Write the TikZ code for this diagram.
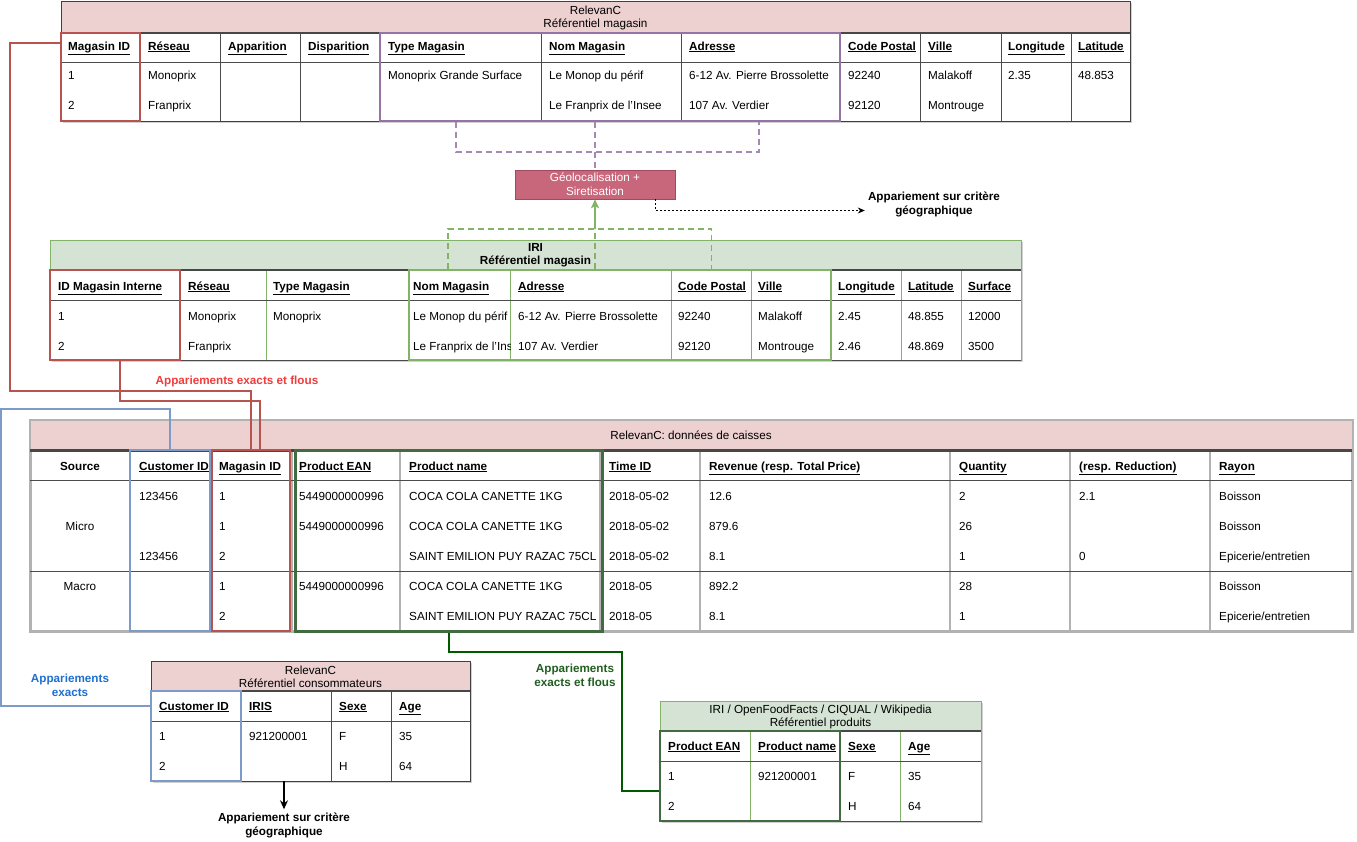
\documentclass[tikz,border=0pt]{standalone}
\usepackage{fontspec}
\setmainfont{Liberation Sans}
\usetikzlibrary{fit,calc,positioning,arrows.meta,shadows}

\definecolor{headpink}{HTML}{EDD0D0}
\definecolor{headgreen}{HTML}{D5E3D4}
\definecolor{linkred}{HTML}{B85450}
\definecolor{linkpurple}{HTML}{9673A6}
\definecolor{linkblue}{HTML}{7D9BC8}
\definecolor{lightgreen}{HTML}{82B366}
\definecolor{boxgreen}{HTML}{426B41}
\definecolor{linkgreen}{HTML}{005A00}
\definecolor{textred}{HTML}{F03C3C}
\definecolor{textblue}{HTML}{1F6FCF}
\definecolor{textgreen}{HTML}{215F21}
\definecolor{geofill}{HTML}{C8667B}
\definecolor{geodraw}{HTML}{A14A5E}

\tikzset{cell/.style={anchor=base west, inner sep=0pt, font=\fontsize{11.7}{14}\selectfont}}
\tikzset{colhead/.style={cell, font=\fontsize{11.7}{14}\selectfont\bfseries}}
\tikzset{title/.style={align=center, inner sep=0pt, font=\fontsize{11.7}{13.5}\selectfont}}
\tikzset{note/.style={align=center, inner sep=3pt, font=\fontsize{11.7}{14}\selectfont\bfseries}}
\tikzset{tabframe/.style={draw=black!75, fill=white, inner sep=0pt, line width=0.8pt,
  drop shadow={shadow xshift=2pt, shadow yshift=-2pt, fill=black, opacity=0.18}}}
\tikzset{pinkband/.style={draw=black!75, fill=headpink, inner sep=0pt, line width=0.8pt}}
\tikzset{greenband/.style={draw=lightgreen, fill=headgreen, inner sep=0pt, line width=0.8pt}}
\tikzset{headbar/.style={draw=black!72, line width=2pt}}
\tikzset{rowline/.style={draw=black!70, line width=0.6pt}}
\tikzset{sepdark/.style={draw=black!70, line width=0.6pt}}
\tikzset{sepgreen/.style={draw=lightgreen, line width=0.8pt}}
\tikzset{sepgray/.style={draw=black!30, line width=2.5pt}}
\tikzset{hlbox/.style={draw=#1, line width=2pt, inner sep=0pt}}
\tikzset{geobox/.style={draw=geodraw, fill=geofill, text=white, align=center, minimum width=160pt,
  minimum height=29pt, inner sep=0pt, font=\fontsize{11.7}{14}\selectfont}}
\tikzset{redlink/.style={draw=linkred, line width=1.5pt}}
\tikzset{bluelink/.style={draw=linkblue, line width=1.5pt}}
\tikzset{greenlink/.style={draw=linkgreen, line width=2pt}}
\tikzset{purpdash/.style={draw=linkpurple!85, line width=1.5pt, dash pattern=on 6pt off 4pt}}
\tikzset{greendash/.style={draw=lightgreen, line width=1.5pt, dash pattern=on 6pt off 4pt}}
\tikzset{greenarrow/.style={draw=lightgreen, line width=1.5pt, -{Stealth[length=9pt, width=8pt, inset=2pt]}}}
\tikzset{dotarrow/.style={draw=black, line width=0.8pt, dash pattern=on 2pt off 2pt, -{Stealth[length=7pt, width=6pt]}}}
\tikzset{blackarrow/.style={draw=black, line width=1.5pt, -{Stealth[length=9pt, width=8pt]}}}

\begin{document}
\begin{tikzpicture}[x=1pt, y=-1pt]
\useasboundingbox[fill=white] (0,0) rectangle (1357,841);

% RelevanC - referentiel magasin
\node[tabframe, fit={(61,1) (1130,121)}] (tabA) {};
\node[pinkband, fit={(61,1) (1130,33)}] (tabAhead) {};
\node[title] (tabAtitle) at ([yshift=-1pt]tabAhead.center) {RelevanC\\Référentiel magasin};
\foreach \x in {140,220,300,380,541,681,840,920,1001,1071}
  \draw[sepdark] (\x,33) -- (\x,121);
\draw[headbar] (61,33) -- (1130,33);
\draw[rowline] (61,62) -- (1130,62);
\foreach \x/\t [count=\i] in {68/Magasin ID,148/Réseau,228/Apparition,308/Disparition,388/Type Magasin,549/Nom Magasin,689/Adresse,848/Code Postal,928/Ville,1008/Longitude,1078/Latitude}
  \node[colhead] (tA-h\i) at (\x,50) {\underline{\t}};
\foreach \x/\t [count=\i] in {68/1,148/Monoprix,388/Monoprix Grande Surface,549/Le Monop du périf,689/6-12 Av. Pierre Brossolette,848/92240,928/Malakoff,1008/2.35,1078/48.853}
  \node[cell] (tA-a\i) at (\x,79) {\t};
\foreach \x/\t [count=\i] in {68/2,148/Franprix,549/Le Franprix de l'Insee,689/107 Av. Verdier,848/92120,928/Montrouge}
  \node[cell] (tA-b\i) at (\x,109) {\t};
\node[hlbox=linkred, fit={(61,33) (140,121)}] (magidA) {};
\node[hlbox=linkpurple, fit={(380,33) (840,121)}] (purpA) {};

% geolocalisation
\node[geobox] (geoloc) at (595,184.5) {Géolocalisation +\\Siretisation};
\node[note] (geotxtA) at (934,204.5) {Appariement sur critère\\géographique};

% IRI - referentiel magasin
\node[tabframe, draw=lightgreen, fit={(50,240) (1021,360)}] (tabB) {};
\node[greenband, fit={(50,240) (1021,270)}] (tabBhead) {};
\node[title, font=\fontsize{11.7}{13.5}\selectfont\bfseries] (tabBtitle) at (tabBhead.center) {IRI\\Référentiel magasin};
\foreach \x in {180,266,409,510,671,751,831,901,961}
  \draw[sepgreen] (\x,270) -- (\x,360);
\draw[headbar] (50,270) -- (1021,270);
\draw[rowline] (50,300) -- (1021,300);
\draw[rowline] (50,360) -- (1021,360);
\foreach \x/\t [count=\i] in {58/ID Magasin Interne,188/Réseau,273/Type Magasin,413/Nom Magasin,518/Adresse,678/Code Postal,758/Ville,838/Longitude,908/Latitude,968/Surface}
  \node[colhead] (tB-h\i) at (\x,290) {\underline{\t}};
\foreach \x/\t [count=\i] in {58/1,188/Monoprix,273/Monoprix,518/6-12 Av. Pierre Brossolette,678/92240,758/Malakoff,838/2.45,908/48.855,968/12000}
  \node[cell] (tB-a\i) at (\x,320) {\t};
\foreach \x/\t [count=\i] in {58/2,188/Franprix,518/107 Av. Verdier,678/92120,758/Montrouge,838/2.46,908/48.869,968/3500}
  \node[cell] (tB-b\i) at (\x,350) {\t};
\begin{scope}
  \clip (409,300) rectangle (510,360);
  \node[cell] (tB-a0) at (413,320) {Le Monop du périf};
  \node[cell] (tB-b0) at (413,350) {Le Franprix de l'Insee};
\end{scope}
\node[hlbox=linkred, fit={(50,270) (180,360)}] (magidB) {};
\node[hlbox=lightgreen, line width=2.5pt, fit={(409,270) (831,360)}] (greenB) {};

% RelevanC - donnees de caisses
\node[tabframe, draw=black!30, line width=3pt, fit={(30,420) (1352,631)}] (tabC) {};
\node[pinkband, draw=black!30, line width=1pt, fit={(30,420) (1352,450)}] (tabChead) {};
\node[title] (tabCtitle) at (tabChead.center) {RelevanC: données de caisses};
\foreach \x in {130,210,292,400,600,700,950,1070,1210}
  \draw[sepgray] (\x,450) -- (\x,631);
\draw[headbar, line width=3pt] (30,450) -- (1352,450);
\draw[rowline] (30,480) -- (1352,480);
\draw[rowline] (30,571) -- (1352,571);
\node[colhead, anchor=base] (tC-h0) at (80,470) {Source};
\foreach \x/\t [count=\i] in {139/Customer ID,219/Magasin ID,299/Product EAN,409/Product name,609/Time ID,709/{Revenue (resp. Total Price)},959/Quantity,1079/{(resp. Reduction)},1219/Rayon}
  \node[colhead] (tC-h\i) at (\x,470) {\underline{\t}};
\node[cell, anchor=base] (tC-micro) at (80,530) {Micro};
\node[cell, anchor=base] (tC-macro) at (80,590) {Macro};
\foreach \x/\t [count=\i] in {139/123456,219/1,299/5449000000996,409/COCA COLA CANETTE 1KG,609/2018-05-02,709/12.6,959/2,1079/2.1,1219/Boisson}
  \node[cell] (tC-a\i) at (\x,500) {\t};
\foreach \x/\t [count=\i] in {219/1,299/5449000000996,409/COCA COLA CANETTE 1KG,609/2018-05-02,709/879.6,959/26,1219/Boisson}
  \node[cell] (tC-b\i) at (\x,530) {\t};
\foreach \x/\t [count=\i] in {139/123456,219/2,409/SAINT EMILION PUY RAZAC 75CL,609/2018-05-02,709/8.1,959/1,1079/0,1219/{Epicerie/entretien}}
  \node[cell] (tC-c\i) at (\x,560) {\t};
\foreach \x/\t [count=\i] in {219/1,299/5449000000996,409/COCA COLA CANETTE 1KG,609/2018-05,709/892.2,959/28,1219/Boisson}
  \node[cell] (tC-d\i) at (\x,590) {\t};
\foreach \x/\t [count=\i] in {219/2,409/SAINT EMILION PUY RAZAC 75CL,609/2018-05,709/8.1,959/1,1219/{Epicerie/entretien}}
  \node[cell] (tC-e\i) at (\x,620) {\t};
\node[hlbox=linkblue, fit={(130,450) (210,631)}] (custidC) {};
\node[hlbox=linkred, fit={(212,450) (290,631)}] (magidC) {};
\node[hlbox=boxgreen, line width=3pt, fit={(295,450) (602,631)}] (prodC) {};

% RelevanC - referentiel consommateurs
\node[tabframe, fit={(151,661) (470,781)}] (tabD) {};
\node[pinkband, fit={(151,661) (470,691)}] (tabDhead) {};
\node[title] (tabDtitle) at ([yshift=-1pt]tabDhead.center) {RelevanC\\Référentiel consommateurs};
\foreach \x in {241,331,391}
  \draw[sepdark] (\x,691) -- (\x,781);
\draw[headbar] (151,691) -- (470,691);
\draw[rowline] (151,721) -- (470,721);
\foreach \x/\t [count=\i] in {159/Customer ID,249/IRIS,339/Sexe,399/Age}
  \node[colhead] (tD-h\i) at (\x,710) {\underline{\t}};
\foreach \x/\t [count=\i] in {159/1,249/921200001,339/F,399/35}
  \node[cell] (tD-a\i) at (\x,740) {\t};
\foreach \x/\t [count=\i] in {159/2,339/H,399/64}
  \node[cell] (tD-b\i) at (\x,770) {\t};
\node[hlbox=linkblue, fit={(151,691) (241,781)}] (custidD) {};
\node[note] (geotxtB) at (284,825) {Appariement sur critère\\géographique};

% IRI / OFF - referentiel produits
\node[tabframe, draw=lightgreen, fit={(660,701) (981,821)}] (tabE) {};
\node[greenband, fit={(660,701) (981,731)}] (tabEhead) {};
\node[title] (tabEtitle) at ([yshift=-1pt]tabEhead.center) {IRI / OpenFoodFacts / CIQUAL / Wikipedia\\Référentiel produits};
\foreach \x in {750,840,900}
  \draw[sepgreen] (\x,731) -- (\x,821);
\draw[headbar] (660,731) -- (981,731);
\draw[rowline] (660,761) -- (981,761);
\draw[rowline] (660,821) -- (981,821);
\foreach \x/\t [count=\i] in {668/Product EAN,758/Product name,848/Sexe,908/Age}
  \node[colhead] (tE-h\i) at (\x,750) {\underline{\t}};
\foreach \x/\t [count=\i] in {668/1,758/921200001,848/F,908/35}
  \node[cell] (tE-a\i) at (\x,780) {\t};
\foreach \x/\t [count=\i] in {668/2,848/H,908/64}
  \node[cell] (tE-b\i) at (\x,810) {\t};
\node[hlbox=boxgreen, line width=2.5pt, fit={(660,731) (840,821)}] (prodD) {};

% labels of the matchings
\node[note, text=textred] (redtxt) at (237,381) {Appariements exacts et flous};
\node[note, text=textblue] (bluetxt) at (70,685) {Appariements\\exacts};
\node[note, text=textgreen] (greentxt) at (575,675) {Appariements\\exacts et flous};

% connectors
\coordinate (redbend) at (10,391);
\coordinate (bluebend) at (1,706);
\coordinate (greenbend) at (622,791);
\draw[redlink] ([yshift=-11pt]magidA.north west) -| (redbend) -| (magidC.north);
\draw[redlink] ([xshift=5pt]magidB.south) -- ++(0,40) -| ([xshift=9pt]magidC.north);
\draw[bluelink] (custidC.north) -- ++(0,-40) -| (bluebend) -- (bluebend -| custidD.west);
\draw[greenlink] (prodC.south) -- ++(0,19) -| (greenbend) -- (greenbend -| prodD.west);
\draw[purpdash] ([xshift=77pt]purpA.south west) -- ++(0,30) -| ([xshift=-82pt]purpA.south east);
\draw[purpdash] (geoloc.north |- purpA.south) -- (geoloc.north);
\draw[greendash] ([xshift=40pt]greenB.north west) -- ++(0,-40) -| ([xshift=-121pt]greenB.north east);
\draw[greendash] (geoloc.south |- greenB.north) -- ++(0,-40) coordinate (gjoin);
\draw[greenarrow] (gjoin) -- (geoloc.south);
\draw[dotarrow] ([xshift=-20pt]geoloc.south east) |- ([yshift=-6pt]geotxtA.west);
\draw[blackarrow] (geotxtB.north |- tabD.south) -- (geotxtB.north);
\end{tikzpicture}
\end{document}
